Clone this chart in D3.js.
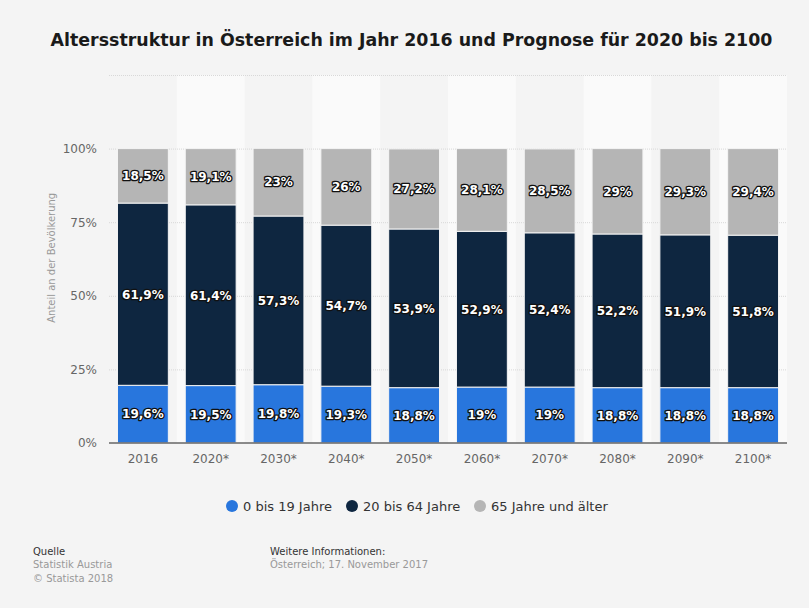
<!DOCTYPE html>
<html>
<head>
<meta charset="utf-8">
<script src="https://cdn.jsdelivr.net/npm/d3@7"></script>
<style>
  html, body { margin: 0; padding: 0; background: #f4f4f4; }
  svg { display: block; font-family: "DejaVu Sans", sans-serif; }
</style>
</head>
<body>
<svg id="chart" width="809" height="608"></svg>
<script>
// Jahre (Kategorien) und Anteile je Altersgruppe in Prozent
const years = ["2016", "2020*", "2030*", "2040*", "2050*", "2060*", "2070*", "2080*", "2090*", "2100*"];
const age0to19 = [19.6, 19.5, 19.8, 19.3, 18.8, 19, 19, 18.8, 18.8, 18.8];
const age20to64 = [61.9, 61.4, 57.3, 54.7, 53.9, 52.9, 52.4, 52.2, 51.9, 51.8];
const age65plus = [18.5, 19.1, 23, 26, 27.2, 28.1, 28.5, 29, 29.3, 29.4];
const seriesNames = ["0 bis 19 Jahre", "20 bis 64 Jahre", "65 Jahre und älter"];
const seriesColors = ["#2876dd", "#0e2640", "#b5b5b5"];
const yTicks = [0, 25, 50, 75, 100];
const yTickLabels = ["0%", "25%", "50%", "75%", "100%"];

const svg = d3.select("#chart");
const W = 809, H = 608;
const margin = { left: 109, right: 22, top: 75, bottom: 165 };
const plotBottom = H - margin.bottom;

const rows = years.map((y, i) => ({ year: y, a: age0to19[i], b: age20to64[i], c: age65plus[i] }));
const keys = ["a", "b", "c"];
const stacked = d3.stack().keys(keys)(rows);

const x = d3.scaleBand().domain(years).range([margin.left, W - margin.right]).paddingInner(0.25).paddingOuter(0.125);
const xBand = d3.scaleBand().domain(years).range([margin.left, W - margin.right]).padding(0);
const y = d3.scaleLinear().domain([0, 125]).range([plotBottom, margin.top]);

// Title
svg.append("text")
  .attr("x", W / 2 + 7).attr("y", 46)
  .attr("text-anchor", "middle")
  .attr("font-weight", "bold").attr("font-size", 17.4)
  .attr("fill", "#1a1a1a")
  .text("Altersstruktur in Österreich im Jahr 2016 und Prognose für 2020 bis 2100");

// Alternating column bands
svg.append("g").selectAll("rect")
  .data(years.filter((d, i) => i % 2 === 1))
  .join("rect")
  .attr("x", d => xBand(d)).attr("width", xBand.bandwidth())
  .attr("y", y(125)).attr("height", plotBottom - y(125))
  .attr("fill", "#fafafa");

// Horizontal gridlines
svg.append("g").selectAll("line")
  .data(yTicks.concat([125]).filter(v => v > 0))
  .join("line")
  .attr("x1", margin.left).attr("x2", W - margin.right)
  .attr("y1", d => y(d) + 0.5).attr("y2", d => y(d) + 0.5)
  .attr("stroke", "#d8d8d8").attr("stroke-width", 1)
  .attr("stroke-dasharray", "1,1");

// Stacked bars
const groups = svg.append("g").selectAll("g")
  .data(stacked).join("g")
  .attr("fill", (d, i) => seriesColors[i]);

groups.selectAll("rect")
  .data(d => d)
  .join("rect")
  .attr("x", d => x(d.data.year))
  .attr("width", x.bandwidth())
  .attr("y", d => y(d[1]))
  .attr("height", d => y(d[0]) - y(d[1]))
  .attr("stroke", "#f4f4f4").attr("stroke-width", 1);

// Value labels
const fmt = v => String(v).replace(".", ",") + "%";
const labelG = svg.append("g")
  .attr("font-weight", "bold").attr("font-size", 12)
  .attr("text-anchor", "middle");
stacked.forEach(s => {
  labelG.selectAll(null)
    .data(s).join("text")
    .attr("x", d => x(d.data.year) + x.bandwidth() / 2)
    .attr("y", d => (y(d[0]) + y(d[1])) / 2)
    .attr("dy", "0.36em")
    .attr("fill", "#ffffff")
    .attr("stroke", "#111111").attr("stroke-width", 2.6)
    .attr("stroke-linejoin", "round")
    .attr("paint-order", "stroke")
    .text(d => fmt(d.data[s.key]));
});

// Y axis
const yAxis = d3.axisLeft(y).tickValues(yTicks).tickSize(0).tickPadding(0)
  .tickFormat((d, i) => yTickLabels[i]);
const gy = svg.append("g").attr("transform", `translate(${margin.left - 12},0)`).call(yAxis);
gy.select(".domain").remove();
gy.selectAll("text").attr("font-size", 12).attr("fill", "#666").attr("font-family", "DejaVu Sans, sans-serif");

svg.append("text")
  .attr("transform", `translate(51,${(y(0) + y(100)) / 2 - 38}) rotate(-90)`)
  .attr("text-anchor", "middle").attr("dy", "0.35em")
  .attr("font-size", 10).attr("fill", "#999")
  .text("Anteil an der Bevölkerung");

// X axis
const xAxis = d3.axisBottom(x).tickSize(0).tickPadding(11);
const gx = svg.append("g").attr("transform", `translate(0,${plotBottom})`).call(xAxis);
gx.select(".domain").attr("stroke", "#666").attr("stroke-width", 1.5)
  .attr("d", `M${margin.left},0H${W - margin.right}`);
gx.selectAll("text").attr("font-size", 12).attr("fill", "#666").attr("font-family", "DejaVu Sans, sans-serif");

// Legend
const legendX = [232, 352, 480];
const legend = svg.append("g");
seriesNames.forEach((name, i) => {
  legend.append("circle").attr("cx", legendX[i]).attr("cy", 506).attr("r", 6).attr("fill", seriesColors[i]);
  legend.append("text").attr("x", legendX[i] + 11).attr("y", 506).attr("dy", "0.35em")
    .attr("font-size", 13).attr("fill", "#333").text(name);
});

// Footer
const foot = svg.append("g").attr("font-size", 10);
foot.append("text").attr("x", 33).attr("y", 555).attr("fill", "#333").text("Quelle");
foot.append("text").attr("x", 33).attr("y", 568).attr("fill", "#999").text("Statistik Austria");
foot.append("text").attr("x", 33).attr("y", 582).attr("fill", "#999").text("© Statista 2018");
foot.append("text").attr("x", 270).attr("y", 555).attr("fill", "#333").text("Weitere Informationen:");
foot.append("text").attr("x", 270).attr("y", 568).attr("fill", "#999").text("Österreich; 17. November 2017");
</script>
</body>
</html>
